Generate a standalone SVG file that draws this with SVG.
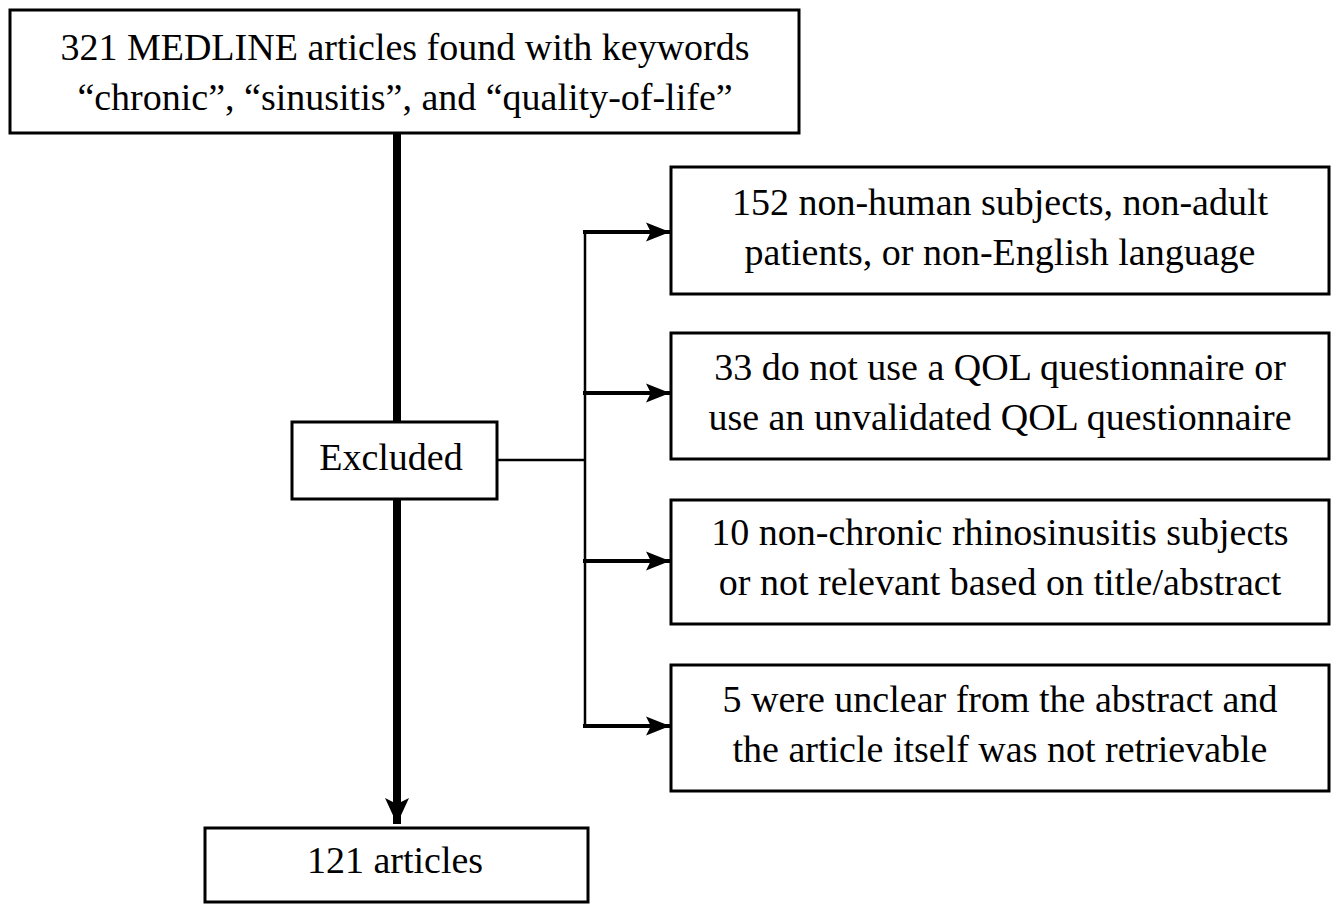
<svg xmlns="http://www.w3.org/2000/svg" width="1336" height="904" viewBox="0 0 1336 904">
<style>
.box{fill:#fff;stroke:#000;stroke-width:3}
text{font-family:"Liberation Serif","Times New Roman",serif;font-size:38px;fill:#000;text-anchor:middle}
</style>
<defs>
<marker id="ah" markerUnits="userSpaceOnUse" markerWidth="24" markerHeight="24" refX="20" refY="10" orient="auto" viewBox="0 0 20 20">
<path d="M0,2 L20,10 L0,18 L4,10 Z" fill="#000"/>
</marker>
<marker id="ahv" markerUnits="userSpaceOnUse" markerWidth="26" markerHeight="26" refX="26" refY="13" orient="auto" viewBox="0 0 26 26">
<path d="M0,1 L26,13 L0,25 L6,13 Z" fill="#000"/>
</marker>
</defs>
<rect width="1336" height="904" fill="#fff"/>
<g id="connectors" stroke="#000" fill="none">
<line x1="397" y1="133" x2="397" y2="422" stroke-width="8"/>
<line x1="397" y1="499" x2="397" y2="824" stroke-width="8" marker-end="url(#ahv)"/>
<line x1="497" y1="460" x2="585" y2="460" stroke-width="2.5"/>
<line x1="585" y1="230" x2="585" y2="728" stroke-width="2.5"/>
<line x1="583" y1="232" x2="670" y2="232" stroke-width="4" marker-end="url(#ah)"/>
<line x1="583" y1="393" x2="670" y2="393" stroke-width="4" marker-end="url(#ah)"/>
<line x1="583" y1="561" x2="670" y2="561" stroke-width="4" marker-end="url(#ah)"/>
<line x1="583" y1="726" x2="670" y2="726" stroke-width="4" marker-end="url(#ah)"/>
</g>
<g id="top">
<rect class="box" x="10" y="10" width="789" height="123"/>
<text x="405" y="60">321 MEDLINE articles found with keywords</text>
<text x="405" y="110">“chronic”, “sinusitis”, and “quality-of-life”</text>
</g>
<g id="excluded">
<rect class="box" x="292" y="422" width="205" height="77"/>
<text x="391" y="470">Excluded</text>
</g>
<g id="ex1">
<rect class="box" x="671" y="167" width="658" height="127"/>
<text x="1000" y="215">152 non-human subjects, non-adult</text>
<text x="1000" y="265">patients, or non-English language</text>
</g>
<g id="ex2">
<rect class="box" x="671" y="333" width="658" height="126"/>
<text x="1000" y="380">33 do not use a QOL questionnaire or</text>
<text x="1000" y="430">use an unvalidated QOL questionnaire</text>
</g>
<g id="ex3">
<rect class="box" x="671" y="500" width="658" height="124"/>
<text x="1000" y="545">10 non-chronic rhinosinusitis subjects</text>
<text x="1000" y="595">or not relevant based on title/abstract</text>
</g>
<g id="ex4">
<rect class="box" x="671" y="665" width="658" height="126"/>
<text x="1000" y="712">5 were unclear from the abstract and</text>
<text x="1000" y="762">the article itself was not retrievable</text>
</g>
<g id="result">
<rect class="box" x="205" y="828" width="383" height="74"/>
<text x="395" y="873">121 articles</text>
</g>
</svg>
